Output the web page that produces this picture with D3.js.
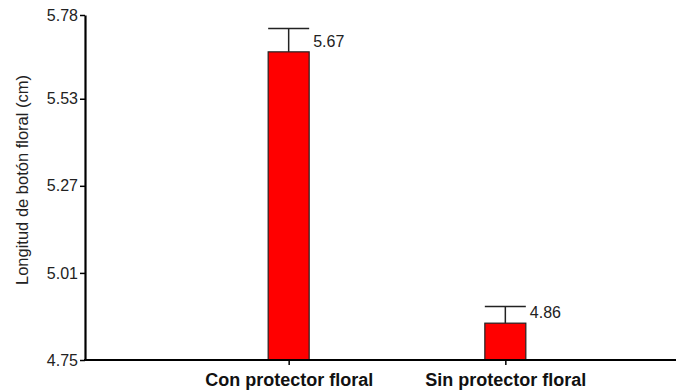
<!DOCTYPE html>
<html>
<head>
<meta charset="utf-8">
<script src="https://cdn.jsdelivr.net/npm/d3@7"></script>
<style>
  html, body { margin: 0; padding: 0; background: #fff; }
  svg { display: block; font-family: "Liberation Sans", Arial, sans-serif; }
</style>
</head>
<body>
<svg id="chart" width="676" height="390"></svg>
<script>
// Floral bud length by treatment
const categories = ["Con protector floral", "Sin protector floral"];
const means = [5.67, 4.86];
const errors = [0.07, 0.05];
const valueLabels = ["5.67", "4.86"];
const yTickValues = [4.75, 5.01, 5.27, 5.53, 5.78];
const yTickLabels = ["4.75", "5.01", "5.27", "5.53", "5.78"];
const yTitle = "Longitud de botón floral (cm)";

const svg = d3.select("#chart");
const plotLeft = 85, plotBottom = 360, plotTop = 15;

const y = d3.scaleLinear().domain([4.75, 5.78]).range([plotBottom, plotTop]);
const x = d3.scalePoint().domain(categories).range([plotLeft, 709]).padding(0.94);
const barW = 41;

// Bars
const data = categories.map((c, i) => ({ c, m: means[i], e: errors[i], label: valueLabels[i] }));

svg.selectAll("rect.bar").data(data).enter().append("rect")
  .attr("class", "bar")
  .attr("x", d => x(d.c) - barW / 2)
  .attr("y", d => y(d.m))
  .attr("width", barW)
  .attr("height", d => y(4.75) - y(d.m))
  .attr("fill", "#ff0000")
  .attr("stroke", "#222")
  .attr("stroke-width", 1.2);

// Error bars (upper only)
const eb = svg.selectAll("g.err").data(data).enter().append("g").attr("class", "err")
  .attr("stroke", "#222").attr("stroke-width", 1.5);
eb.append("line")
  .attr("x1", d => x(d.c)).attr("x2", d => x(d.c))
  .attr("y1", d => y(d.m)).attr("y2", d => y(d.m + d.e));
eb.append("line")
  .attr("x1", d => x(d.c) - barW / 2).attr("x2", d => x(d.c) + barW / 2)
  .attr("y1", d => y(d.m + d.e)).attr("y2", d => y(d.m + d.e));

// Value labels to the right of each error bar, just above the bar top
svg.selectAll("text.val").data(data).enter().append("text")
  .attr("class", "val")
  .attr("x", d => x(d.c) + barW / 2 + 4)
  .attr("y", d => y(d.m) - 5)
  .attr("font-size", 16)
  .attr("fill", "#222")
  .text(d => d.label);

// Y axis
const yAxis = d3.axisLeft(y)
  .tickValues(yTickValues)
  .tickFormat((d, i) => yTickLabels[i])
  .tickSize(5)
  .tickSizeOuter(0)
  .tickPadding(2);
const gy = svg.append("g").attr("transform", `translate(${plotLeft},0)`).call(yAxis);
gy.select(".domain").attr("stroke", "#000").attr("stroke-width", 2.2);
gy.selectAll(".tick line").attr("stroke", "#000").attr("stroke-width", 1.5);
gy.selectAll(".tick text").attr("font-size", 16).attr("fill", "#222")
  .attr("font-family", "Liberation Sans, Arial, sans-serif");

// X axis
const xAxis = d3.axisBottom(x).tickSize(5).tickSizeOuter(0).tickPadding(8);
const gx = svg.append("g").attr("transform", `translate(0,${plotBottom})`).call(xAxis);
gx.select(".domain").attr("stroke", "#000").attr("stroke-width", 2.2)
  .attr("d", `M${plotLeft - 1},0H709`);
gx.selectAll(".tick line").attr("stroke", "#000").attr("stroke-width", 1.5);
gx.selectAll(".tick text").attr("font-size", 18).attr("font-weight", "bold").attr("fill", "#111")
  .attr("font-family", "Liberation Sans, Arial, sans-serif");

// Y title
svg.append("text")
  .attr("transform", `translate(28,180) rotate(-90)`)
  .attr("text-anchor", "middle")
  .attr("font-size", 16.5)
  .attr("fill", "#222")
  .text(yTitle);
</script>
</body>
</html>
